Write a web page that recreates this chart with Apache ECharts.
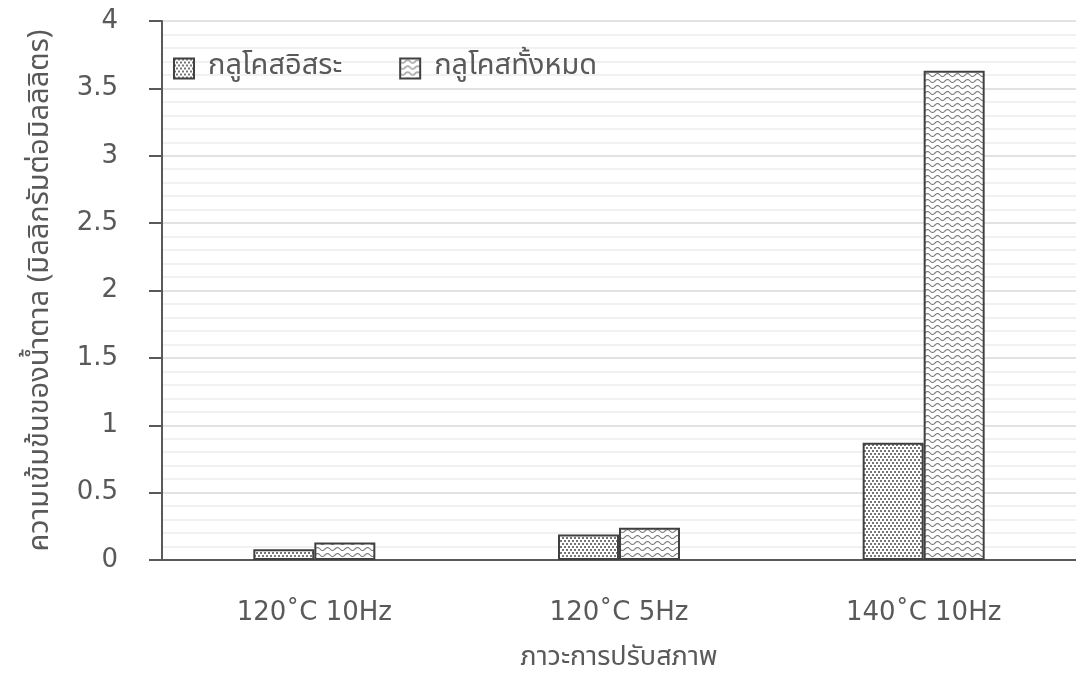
<!DOCTYPE html>
<html>
<head>
<meta charset="utf-8">
<script src="https://cdn.jsdelivr.net/npm/echarts@6/dist/echarts.min.js"></script>
<style>
html,body{margin:0;padding:0;background:#fff;}
#chart{width:1076px;height:684px;}
</style>
</head>
<body>
<div id="chart"></div>
<script>
const categories = ['120˚C 10Hz', '120˚C 5Hz', '140˚C 10Hz'];
const seriesNames = ['กลูโคสอิสระ', 'กลูโคสทั้งหมด'];
const freeGlucose = [0.08, 0.19, 0.87];
const totalGlucose = [0.13, 0.24, 3.63];
const yAxisTitle = 'ความเข้มข้นของน้ำตาล (มิลลิกรัมต่อมิลลิลิตร)';
const xAxisTitle = 'ภาวะการปรับสภาพ';

function dotPattern() {
  const c = document.createElement('canvas');
  c.width = 4; c.height = 6;
  const g = c.getContext('2d');
  g.fillStyle = '#ffffff'; g.fillRect(0, 0, 4, 6);
  g.fillStyle = '#757575';
  g.fillRect(0, 0, 2, 2);
  g.fillRect(2, 3, 2, 2);
  return c;
}
function wavePattern() {
  const c = document.createElement('canvas');
  c.width = 10; c.height = 6;
  const g = c.getContext('2d');
  g.fillStyle = '#ffffff'; g.fillRect(0, 0, 10, 6);
  g.strokeStyle = '#808080'; g.lineWidth = 1.2;
  g.beginPath();
  for (let x = 0; x <= 10; x += 0.5) {
    const y = 3 + 1.5 * Math.sin(x / 10 * 2 * Math.PI);
    if (x === 0) g.moveTo(x, y); else g.lineTo(x, y);
  }
  g.stroke();
  return c;
}

const thaiFont = 'Tahoma, "Noto Sans Thai", "Noto Sans", "DejaVu Sans", sans-serif';
const latinFont = '"DejaVu Sans", "Liberation Sans", Arial, sans-serif';
const textColor = '#595959';

const chart = echarts.init(document.getElementById('chart'));
chart.setOption({
  animation: false,
  backgroundColor: '#ffffff',
  grid: { left: 162, right: 0, top: 21, bottom: 124 },
  legend: {
    left: 173, top: 54, padding: 0,
    itemWidth: 20, itemHeight: 20, itemGap: 57,
    icon: 'rect',
    textStyle: { fontFamily: thaiFont, fontSize: 29, color: textColor, padding: [0, 0, 0, 9] },
    data: seriesNames
  },
  xAxis: {
    type: 'category',
    data: categories,
    axisLine: { lineStyle: { color: textColor, width: 2 } },
    axisTick: { show: false },
    axisLabel: { fontFamily: latinFont, fontSize: 26, color: textColor, margin: 40 },
    name: xAxisTitle,
    nameLocation: 'middle',
    nameGap: 86,
    nameTextStyle: { fontFamily: thaiFont, fontSize: 27, color: textColor }
  },
  yAxis: {
    type: 'value',
    min: 0, max: 4, interval: 0.5,
    axisLine: { show: true, lineStyle: { color: textColor, width: 2 } },
    axisTick: { show: true, length: 13, lineStyle: { color: textColor, width: 2 } },
    axisLabel: { fontFamily: latinFont, fontSize: 26, color: textColor, margin: 44 },
    splitLine: { lineStyle: { color: '#d9d9d9', width: 1.5 } },
    minorTick: { show: false, splitNumber: 5 },
    minorSplitLine: { show: true, lineStyle: { color: '#ededed', width: 1.5 } },
    name: yAxisTitle,
    nameLocation: 'middle',
    nameGap: 105,
    nameTextStyle: { fontFamily: thaiFont, fontSize: 29, color: textColor }
  },
  series: [
    {
      name: seriesNames[0], type: 'bar', data: freeGlucose,
      barWidth: 61, barGap: '0%',
      itemStyle: { color: { image: dotPattern(), repeat: 'repeat' }, borderColor: '#404040', borderWidth: 2 }
    },
    {
      name: seriesNames[1], type: 'bar', data: totalGlucose,
      barWidth: 61, barGap: '0%',
      itemStyle: { color: { image: wavePattern(), repeat: 'repeat' }, borderColor: '#404040', borderWidth: 2 }
    }
  ]
});
</script>
</body>
</html>
